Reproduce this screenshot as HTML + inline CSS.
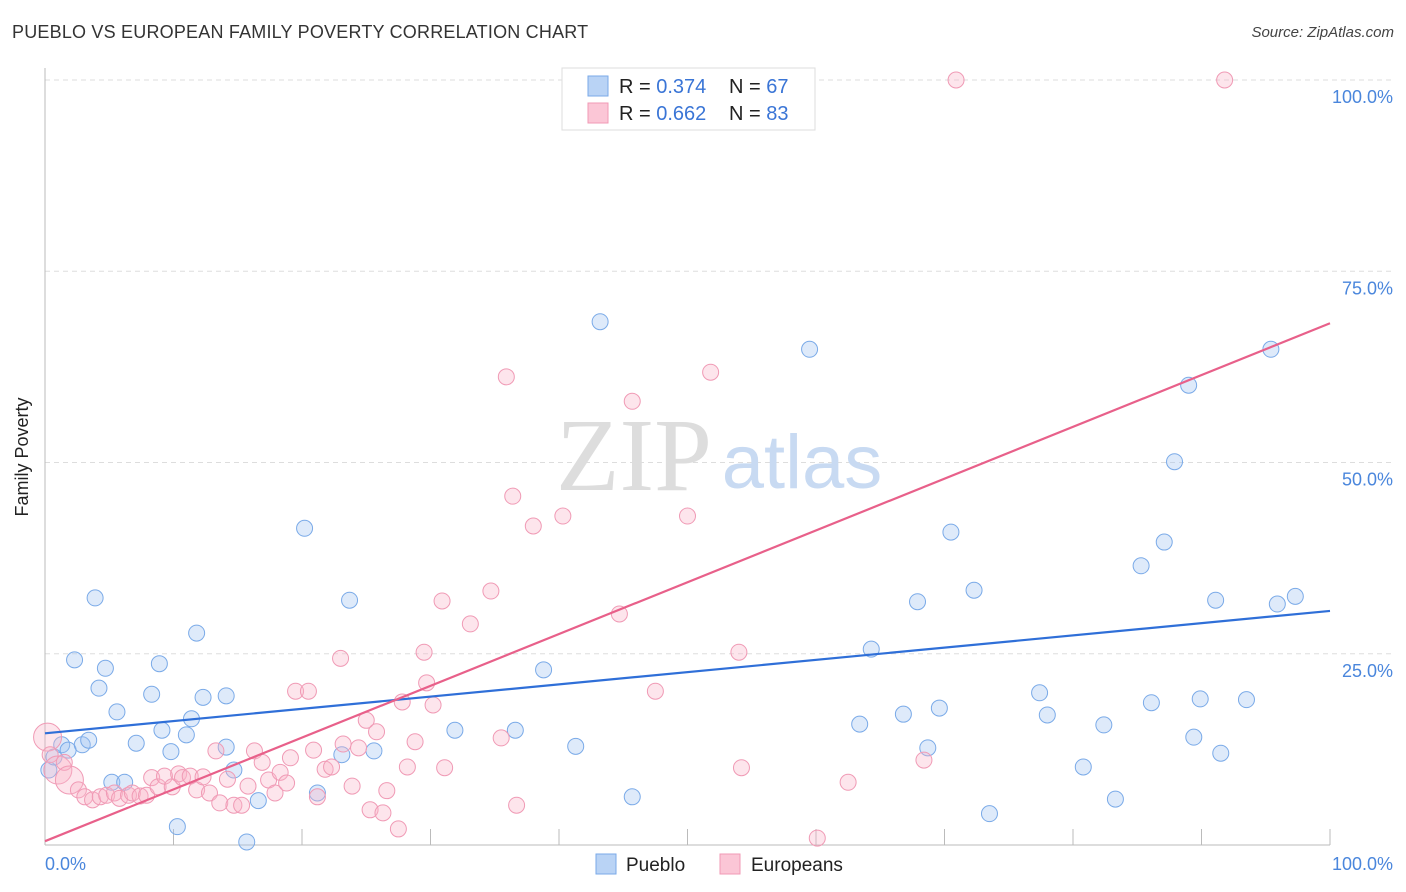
<!DOCTYPE html>
<html><head><meta charset="utf-8">
<style>
body{margin:0;background:#fff;font-family:"Liberation Sans",sans-serif;}
#wrap{position:relative;width:1406px;height:892px;overflow:hidden;}
.t{position:absolute;white-space:nowrap;}
</style></head>
<body>
<div id="wrap">
<div class="t" style="left:12px;top:22px;font-size:18px;color:#333;letter-spacing:0.2px">PUEBLO VS EUROPEAN FAMILY POVERTY CORRELATION CHART</div>
<div class="t" style="right:12px;top:24px;font-size:15px;color:#444;font-style:italic">Source: ZipAtlas.com</div>
<svg id="chart" width="1406" height="892" style="position:absolute;left:0;top:0">
<g id="grid"></g>
<text x="634" y="490" text-anchor="middle" font-family="Liberation Serif,serif" font-size="104" fill="#ddd">ZIP</text>
<text x="802" y="488" text-anchor="middle" font-family="Liberation Sans,sans-serif" font-size="76" fill="#c8daf2">atlas</text>
<g id="marks"></g>
<g id="lines"></g>
<text x="28" y="457" transform="rotate(-90 28 457)" text-anchor="middle" font-size="18" fill="#222">Family Poverty</text>
<g id="legend-top">
<rect x="562" y="68" width="253" height="62" fill="#fff" stroke="#ddd"/>
<rect x="588" y="76" width="20" height="20" fill="#b9d3f5" stroke="#7aaae8"/>
<rect x="588" y="103" width="20" height="20" fill="#fbc6d6" stroke="#f09ab5"/>
<text x="619" y="93" font-size="20" fill="#222">R = <tspan fill="#3a75d6">0.374</tspan></text>
<text x="729" y="93" font-size="20" fill="#222">N = <tspan fill="#3a75d6">67</tspan></text>
<text x="619" y="120" font-size="20" fill="#222">R = <tspan fill="#3a75d6">0.662</tspan></text>
<text x="729" y="120" font-size="20" fill="#222">N = <tspan fill="#3a75d6">83</tspan></text>
</g>
<g>
<rect x="596" y="854" width="20" height="20" fill="#b9d3f5" stroke="#7aaae8"/>
<text x="626" y="871" font-size="19" fill="#222">Pueblo</text>
<rect x="720" y="854" width="20" height="20" fill="#fbc6d6" stroke="#f09ab5"/>
<text x="751" y="871" font-size="19" fill="#222">Europeans</text>
</g>
</svg>
</div>
<script>
const yTicks=[25,50,75,100];
const yTickLabels=["25.0%","50.0%","75.0%","100.0%"];
const xTicks=[10,20,30,40,50,60,70,80,90,100];
const puebloX=[0.3,0.7,1.3,1.8,2.9,3.4,3.9,2.3,4.7,4.2,5.6,5.2,6.2,7.1,8.3,8.9,9.1,9.8,10.3,11.0,11.4,11.8,12.3,14.1,14.1,14.7,15.7,16.6,20.2,21.2,23.1,23.7,25.6,31.9,36.6,38.8,41.3,43.2,45.7,59.5,63.4,64.3,66.8,67.9,68.7,69.6,70.5,72.3,73.5,77.4,78.0,80.8,82.4,83.3,85.3,86.1,87.1,87.9,89.0,89.4,89.9,91.1,91.5,93.5,95.4,95.9,97.3];
const puebloY=[9.8,11.5,13.1,12.4,13.1,13.7,32.3,24.2,23.1,20.5,17.4,8.2,8.2,13.3,19.7,23.7,15.0,12.2,2.4,14.4,16.5,27.7,19.3,19.5,12.8,9.8,0.4,5.8,41.4,6.8,11.8,32.0,12.3,15.0,15.0,22.9,12.9,68.4,6.3,64.8,15.8,25.6,17.1,31.8,12.7,17.9,40.9,33.3,4.1,19.9,17.0,10.2,15.7,6.0,36.5,18.6,39.6,50.1,60.1,14.1,19.1,32.0,12.0,19.0,64.8,31.5,32.5];
const euroX=[0.2,0.4,1.0,1.5,1.9,2.6,3.1,3.7,4.3,4.8,5.4,5.8,6.5,6.8,7.4,7.9,8.3,8.8,9.3,9.9,10.4,10.7,11.3,11.8,12.3,12.8,13.3,13.6,14.2,14.7,15.3,15.8,16.3,16.9,17.4,17.9,18.3,18.8,19.1,19.5,20.5,20.9,21.2,21.8,22.3,23.0,23.2,23.9,24.4,25.0,25.3,25.8,26.3,26.6,27.5,27.8,28.2,28.8,29.5,29.7,30.2,30.9,31.1,33.1,34.7,35.5,35.9,36.4,36.7,38.0,40.3,44.7,45.7,47.5,50.0,51.8,54.0,54.2,60.1,62.5,68.4,70.9,91.8];
const euroY=[14.1,11.8,9.8,10.8,8.5,7.2,6.3,5.9,6.3,6.5,6.8,6.1,6.5,6.8,6.4,6.5,8.8,7.6,9.0,7.6,9.3,8.8,9.0,7.2,8.9,6.8,12.3,5.5,8.6,5.2,5.2,7.7,12.3,10.8,8.5,6.8,9.5,8.1,11.4,20.1,20.1,12.4,6.3,9.9,10.2,24.4,13.2,7.7,12.7,16.3,4.6,14.8,4.2,7.1,2.1,18.7,10.2,13.5,25.2,21.2,18.3,31.9,10.1,28.9,33.2,14.0,61.2,45.6,5.2,41.7,43.0,30.2,58.0,20.1,43.0,61.8,25.2,10.1,0.9,8.2,11.1,100,100];
const euroBig=[0,2,4];
const puebloTrend=[14.6,30.6];
const euroTrend=[0.5,68.2];

const X0=45,X1=1330,Y0=845,Y100=80;
const sx=v=>X0+(X1-X0)*v/100;
const sy=v=>Y0-(Y0-Y100)*v/100;
const NS="http://www.w3.org/2000/svg";
function mk(tag,attrs,parent){const e=document.createElementNS(NS,tag);for(const k in attrs)e.setAttribute(k,attrs[k]);parent.appendChild(e);return e;}
const grid=document.getElementById('grid');
yTicks.forEach((t,i)=>{
  const l=mk('line',{x1:X0,x2:1394,y1:sy(t),y2:sy(t),stroke:'#ddd','stroke-dasharray':'5,4'},grid);
  
  
  const tx=mk('text',{x:1393,y:sy(t)+23,'text-anchor':'end','font-size':18,fill:'#4a86dc'},grid);
  tx.textContent=yTickLabels[i];
  
  
});
const ax=mk('line',{x1:X0,x2:X0,y1:68,y2:Y0,stroke:'#bbb'},grid);


const bx=mk('line',{x1:X0,x2:X1,y1:Y0,y2:Y0,stroke:'#bbb'},grid);


xTicks.forEach(t=>{
  const l=mk('line',{x1:sx(t),x2:sx(t),y1:Y0-16,y2:Y0,stroke:'#bbb'},grid);
  
  
});
const xl0=mk('text',{x:45,y:870,'font-size':18,fill:'#4a86dc'},grid);xl0.textContent='0.0%';


const xl1=mk('text',{x:1393,y:870,'text-anchor':'end','font-size':18,fill:'#4a86dc'},grid);xl1.textContent='100.0%';



const marks=document.getElementById('marks');
puebloX.forEach((x,i)=>{
  const c=mk('circle',{cx:sx(x),cy:sy(puebloY[i]),r:8,fill:'rgba(160,196,240,0.35)',stroke:'#7aaae8','stroke-width':1},marks);
  
  
});
euroX.forEach((x,i)=>{
  const r=euroBig.includes(i)?14:8;
  const c=mk('circle',{cx:sx(x),cy:sy(euroY[i]),r:r,fill:'rgba(248,180,200,0.35)',stroke:'#f09ab5','stroke-width':1},marks);
  
  
});
const lines=document.getElementById('lines');
const pl=mk('line',{x1:sx(0),y1:sy(puebloTrend[0]),x2:sx(100),y2:sy(puebloTrend[1]),stroke:'#2f6fd8','stroke-width':2.2},lines);


const el=mk('line',{x1:sx(0),y1:sy(euroTrend[0]),x2:sx(100),y2:sy(euroTrend[1]),stroke:'#e8608a','stroke-width':2.2},lines);


</script>
</body></html>
